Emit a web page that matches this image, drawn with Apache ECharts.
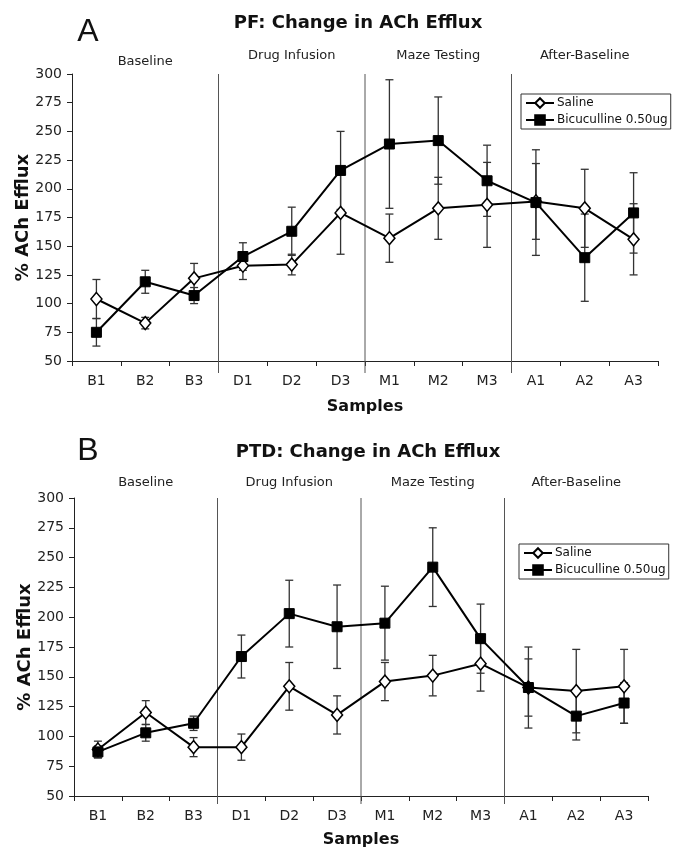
<!DOCTYPE html>
<html><head><meta charset="utf-8">
<script src="https://cdn.jsdelivr.net/npm/echarts@6/dist/echarts.min.js"></script>
<style>html,body{margin:0;padding:0;background:#fff}#c{width:674px;height:850px}</style>
</head><body><div id="c"></div>
<script>
// ---------- data ----------
const categories = ['B1','B2','B3','D1','D2','D3','M1','M2','M3','A1','A2','A3'];
const sections = ['Baseline','Drug Infusion','Maze Testing','After-Baseline'];
const samplesPerSection = 3;
const seriesNames = ['Saline','Bicuculline 0.50ug'];
const yMin = 50, yMax = 300, yStep = 25;

// Panel A: PF
const pfSaline     = [104, 83, 122, 133, 134, 179, 157, 183, 186, 189, 183, 156];
const pfSalineErr  = [ 17,  5,  13,  12,   9,  36,  21,  27,  37,  33,  34,  31];
const pfBicuc      = [ 75, 119, 107, 141, 163, 216, 239, 242, 207, 188, 140, 179];
const pfBicucErr   = [ 12, 10,   7,  12,  21,  34,  56,  38,  31,  46,  38,  35];

// Panel B: PTD
const ptdSaline    = [ 89, 120,  91,  91, 142, 118, 146, 151, 161, 141, 138, 142];
const ptdSalineErr = [  7,  10,   8,  11,  20,  16,  16,  17,  23,  24,  35,  31];
const ptdBicuc     = [ 87, 103, 111, 167, 203, 192, 195, 242, 182, 141, 117, 128];
const ptdBicucErr  = [  5,   7,   6,  18,  28,  35,  31,  33,  29,  34,  20,  17];

// ---------- layout ----------
const FONT = 'DejaVu Sans';
const panels = [
  { letter:'A', title:'PF: Change in ACh Efflux', saline:pfSaline, salineErr:pfSalineErr, bicuc:pfBicuc, bicucErr:pfBicucErr,
    grid:{left:72, top:74, width:586, height:287}, titleXY:[358,23], letterXY:[88,32],
    labelLift:[12,18,18,18], divExtend:12, legend:{left:521, top:94} },
  { letter:'B', title:'PTD: Change in ACh Efflux', saline:ptdSaline, salineErr:ptdSalineErr, bicuc:ptdBicuc, bicucErr:ptdBicucErr,
    grid:{left:74, top:498, width:574, height:298}, titleXY:[368,452], letterXY:[88,451],
    labelLift:[15,15,15,15], divExtend:8, legend:{left:519, top:544} }
];

const boundaries = sections.slice(1).map((s,j)=> (j+1)*samplesPerSection - 0.5);
const sectionCenters = sections.map((s,j)=> j*samplesPerSection + (samplesPerSection-1)/2);

function errItem(params, api){
  const x = api.value(0), m = api.value(1), e = api.value(2);
  const hi = api.coord([x, m+e]), lo = api.coord([x, m-e]);
  const cw = 4, st = {stroke:'#333', lineWidth:1.3};
  return {type:'group', children:[
    {type:'line', shape:{x1:hi[0],y1:hi[1],x2:lo[0],y2:lo[1]}, style:st},
    {type:'line', shape:{x1:hi[0]-cw,y1:hi[1],x2:hi[0]+cw,y2:hi[1]}, style:st},
    {type:'line', shape:{x1:lo[0]-cw,y1:lo[1],x2:lo[0]+cw,y2:lo[1]}, style:st}
  ]};
}

const grid=[], xAxis=[], yAxis=[], series=[], legend=[], graphic=[];
panels.forEach((p,k)=>{
  grid.push(Object.assign({containLabel:false}, p.grid));
  xAxis.push({
    type:'category', gridIndex:k, data:categories, boundaryGap:true,
    axisLine:{show:true, onZero:false, lineStyle:{color:'#222', width:1}},
    axisTick:{show:true, length:5, lineStyle:{color:'#222'}},
    axisLabel:{fontFamily:FONT, fontSize:14, color:'#222', margin:13},
    splitLine:{show:false},
    name:'Samples', nameLocation:'middle', nameGap:k===0?38:36, nameMoveOverlap:false,
    nameTextStyle:{fontFamily:FONT, fontWeight:'bold', fontSize:16, color:'#111'}
  });
  xAxis.push({type:'value', gridIndex:k, min:-0.5, max:categories.length-0.5, show:false,
    axisLine:{onZero:false}});
  yAxis.push({
    type:'value', gridIndex:k, min:yMin, max:yMax, interval:yStep,
    axisLine:{show:true, onZero:false, lineStyle:{color:'#222', width:1}},
    axisTick:{show:true, length:5, lineStyle:{color:'#222'}},
    axisLabel:{fontFamily:FONT, fontSize:14, color:'#222', margin:10},
    splitLine:{show:false},
    name:'% ACh Efflux', nameLocation:'middle', nameGap:40, nameMoveOverlap:false,
    nameTextStyle:{fontFamily:FONT, fontWeight:'bold', fontSize:18, color:'#111'}
  });
  const xc = 2*k, xv = 2*k+1;
  // dividers
  series.push({
    type:'custom', xAxisIndex:xv, yAxisIndex:k, silent:true, z:1,
    data: boundaries.map(b=>[b, yMax]), encode:{x:0, y:1},
    renderItem:(params, api)=>{
      const t = api.coord([api.value(0), yMax]);
      const b = api.coord([api.value(0), yMin]);
      return {type:'line', shape:{x1:t[0],y1:t[1],x2:b[0],y2:b[1]+p.divExtend}, style:{stroke:'#555', lineWidth:1}};
    }
  });
  // section labels
  series.push({
    type:'custom', xAxisIndex:xv, yAxisIndex:k, silent:true, z:1,
    data: sectionCenters.map((c,j)=>[c, yMax, j]), encode:{x:0, y:1},
    renderItem:(params, api)=>{
      const j = api.value(2);
      const pt = api.coord([api.value(0), yMax]);
      return {type:'text', style:{text:sections[j], x:pt[0], y:pt[1]-p.labelLift[j], align:'center', verticalAlign:'middle',
        font:'13px "'+FONT+'"', fill:'#222'}};
    }
  });
  // error bars
  [[p.saline,p.salineErr],[p.bicuc,p.bicucErr]].forEach(([v,e])=>{
    series.push({
      type:'custom', xAxisIndex:xc, yAxisIndex:k, silent:true, z:2,
      data: v.map((val,i)=>[i, val, e[i]]), encode:{x:0, y:1},
      renderItem: errItem
    });
  });
  // lines
  series.push({
    name:seriesNames[0], type:'line', xAxisIndex:xc, yAxisIndex:k, data:p.saline, z:5,
    symbol:'diamond', symbolSize:[11,13], showSymbol:true,
    lineStyle:{color:'#000', width:2},
    itemStyle:{color:'#fff', borderColor:'#000', borderWidth:1.5},
    emphasis:{disabled:true}
  });
  series.push({
    name:seriesNames[1], type:'line', xAxisIndex:xc, yAxisIndex:k, data:p.bicuc, z:6,
    symbol:'rect', symbolSize:10, showSymbol:true,
    lineStyle:{color:'#000', width:2},
    itemStyle:{color:'#000', borderColor:'#000', borderWidth:1},
    emphasis:{disabled:true}
  });
  legend.push({
    left:p.legend.left, top:p.legend.top, orient:'vertical', data:seriesNames,
    itemWidth:28, itemHeight:12, itemGap:5, padding:[3,3,3,4],
    borderColor:'#333', borderWidth:1, backgroundColor:'#fff',
    textStyle:{fontFamily:FONT, fontSize:12, color:'#111', padding:[0,0,0,-2]}, selectedMode:false
  });
  graphic.push({type:'text', x:p.titleXY[0], y:p.titleXY[1],
    style:{text:p.title, align:'center', verticalAlign:'middle', font:'bold 18px "'+FONT+'"', fill:'#111'}});
  graphic.push({type:'text', x:p.letterXY[0], y:p.letterXY[1],
    style:{text:p.letter, align:'center', verticalAlign:'middle', font:'32px "Liberation Sans"', fill:'#111'}});
});

const chart = echarts.init(document.getElementById('c'), null, {renderer:'canvas'});
chart.setOption({animation:false, backgroundColor:'#fff', grid, xAxis, yAxis, series, legend, graphic});
</script>
</body></html>
